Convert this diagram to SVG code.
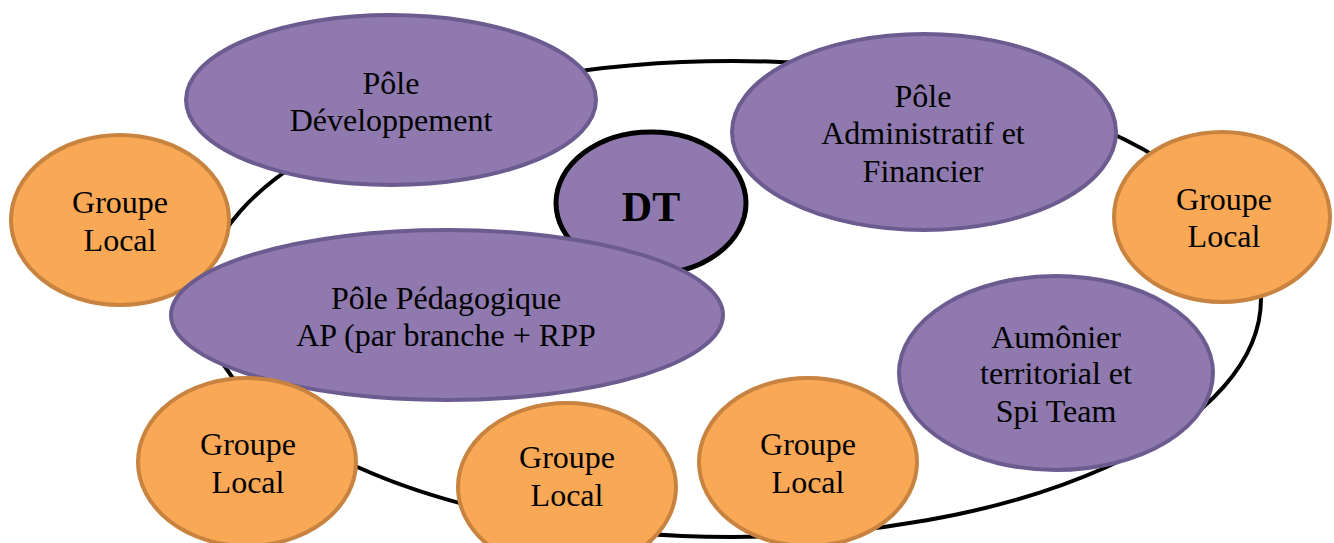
<svg xmlns="http://www.w3.org/2000/svg" width="1334" height="543" viewBox="0 0 1334 543">
<style>
.p{fill:#8F79AE;stroke:#6C5B8F;stroke-width:4}
.o{fill:#F9A856;stroke:#C7833F;stroke-width:4}
.t{font-family:"Liberation Serif","Times New Roman",serif;font-size:32px;fill:#000;text-anchor:middle}
</style>
<rect width="1334" height="543" fill="#fff"/>
<g id="connectors">
<ellipse cx="732" cy="299" rx="529" ry="238" fill="none" stroke="#000" stroke-width="4"/>
</g>
<g id="pole-dev"><ellipse class="p" cx="391" cy="100" rx="205" ry="85"/><text class="t" x="391" y="94">Pôle</text><text class="t" x="391" y="131">Développement</text></g>
<g id="gl-left"><ellipse class="o" cx="120" cy="220" rx="109" ry="85"/><text class="t" x="120" y="213">Groupe</text><text class="t" x="120" y="251">Local</text></g>
<g id="dt"><ellipse cx="651" cy="203" rx="95" ry="71" fill="#8F79AE" stroke="#000" stroke-width="5"/><text x="651" y="221" font-family="Liberation Serif,serif" font-size="42" font-weight="bold" text-anchor="middle">DT</text></g>
<g id="pole-admin"><ellipse class="p" cx="924" cy="132" rx="192" ry="98"/><text class="t" x="923" y="107">Pôle</text><text class="t" x="923" y="144">Administratif et</text><text class="t" x="923" y="182">Financier</text></g>
<g id="gl-right"><ellipse class="o" cx="1222" cy="217" rx="108" ry="85"/><text class="t" x="1224" y="210">Groupe</text><text class="t" x="1224" y="247">Local</text></g>
<g id="pole-peda"><ellipse class="p" cx="447" cy="315" rx="276" ry="85"/><text class="t" x="446" y="309">Pôle Pédagogique</text><text class="t" x="446" y="346">AP (par branche + RPP</text></g>
<g id="aumonier"><ellipse class="p" cx="1056" cy="373" rx="157" ry="97"/><text class="t" x="1056" y="348">Aumônier</text><text class="t" x="1056" y="384">territorial et</text><text class="t" x="1056" y="422">Spi Team</text></g>
<g id="gl-bl"><ellipse class="o" cx="247" cy="462" rx="109" ry="84"/><text class="t" x="248" y="455">Groupe</text><text class="t" x="248" y="493">Local</text></g>
<g id="gl-bm"><ellipse class="o" cx="567" cy="487" rx="109" ry="84"/><text class="t" x="567" y="468">Groupe</text><text class="t" x="567" y="506">Local</text></g>
<g id="gl-br"><ellipse class="o" cx="808" cy="462" rx="109" ry="84"/><text class="t" x="808" y="455">Groupe</text><text class="t" x="808" y="493">Local</text></g>
</svg>
